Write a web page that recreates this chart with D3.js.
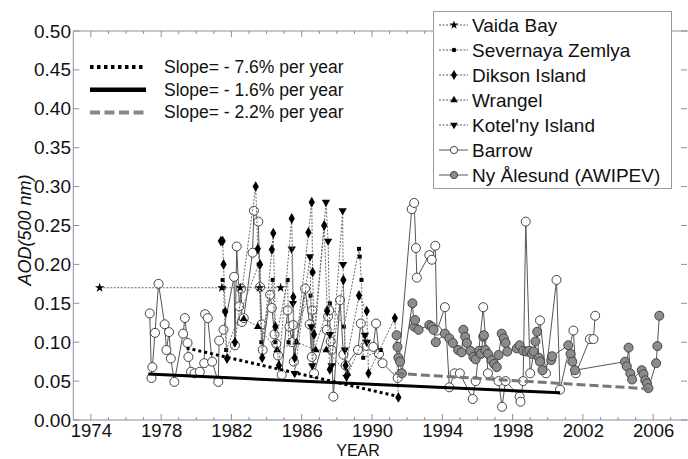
<!DOCTYPE html>
<html><head><meta charset="utf-8">
<script src="https://cdn.jsdelivr.net/npm/d3@7"></script>
<style>body{margin:0;background:#fff}svg{display:block;font-family:"Liberation Sans",Arial,sans-serif}</style>
</head><body><svg id="c" width="688" height="459"></svg>
<script>
const xTicks = [1974,1978,1982,1986,1990,1994,1998,2002,2006];
const yTicks = [0,0.05,0.10,0.15,0.20,0.25,0.30,0.35,0.40,0.45,0.50];
const seriesNames = ["Vaida Bay","Severnaya Zemlya","Dikson Island","Wrangel","Kotel'ny Island","Barrow","Ny Ålesund (AWIPEV)"];
const slopeLabels = ["Slope= - 7.6% per year","Slope= - 1.6% per year","Slope= - 2.2% per year"];

const vaida = [[1974.5,0.17],[1981.45,0.17],[1982.5,0.17],[1983.6,0.17],[1984.8,0.17]];
const severnaya = [[1981.5,0.18],[1981.55,0.17],[1981.6,0.14],[1981.7,0.09],[1983.55,0.20],[1983.7,0.10],[1984.35,0.18],[1984.5,0.10],[1985.2,0.18],[1985.25,0.10],[1986.5,0.16],[1986.7,0.09],[1987.6,0.15],[1988.4,0.12],[1989.26,0.22],[1989.3,0.21],[1989.4,0.18],[1989.5,0.08],[1990.5,0.09]];
const dikson = [[1981.4,0.23],[1981.5,0.23],[1981.55,0.20],[1981.65,0.139],[1981.75,0.079],[1982.2,0.10],[1983.38,0.30],[1983.5,0.22],[1983.63,0.20],[1983.75,0.08],[1984.3,0.219],[1984.38,0.24],[1984.5,0.12],[1984.7,0.07],[1985.43,0.259],[1985.52,0.158],[1985.6,0.08],[1986.38,0.241],[1986.57,0.28],[1986.62,0.19],[1986.7,0.11],[1987.28,0.25],[1987.45,0.14],[1987.6,0.065],[1988.37,0.18],[1988.5,0.07],[1989.26,0.16],[1989.7,0.14],[1989.8,0.06],[1991.3,0.131],[1991.5,0.029]];
const wrangel = [[1982.7,0.13],[1983.5,0.12],[1984.6,0.09],[1985.7,0.10],[1986.8,0.09],[1987.4,0.09],[1988.6,0.06]];
const kotelny = [[1985.43,0.22],[1985.5,0.15],[1985.6,0.06],[1986.47,0.21],[1986.55,0.12],[1986.6,0.07],[1987.38,0.28],[1987.5,0.23],[1987.6,0.11],[1987.7,0.07],[1988.33,0.269],[1988.35,0.20],[1988.45,0.09],[1988.55,0.055],[1989.6,0.109],[1989.7,0.10]];
const barrow = [[1977.35,0.137],[1977.45,0.054],[1977.5,0.068],[1977.65,0.112],[1977.85,0.175],[1978.2,0.123],[1978.3,0.09],[1978.45,0.113],[1978.55,0.079],[1978.75,0.049],[1979.25,0.111],[1979.35,0.131],[1979.5,0.099],[1979.55,0.081],[1979.7,0.062],[1979.9,0.06],[1980.2,0.062],[1980.45,0.073],[1980.5,0.136],[1980.65,0.131],[1980.9,0.075],[1981.25,0.049],[1981.3,0.102],[1981.55,0.116],[1982.15,0.184],[1982.2,0.096],[1982.3,0.223],[1982.45,0.146],[1982.55,0.169],[1982.6,0.126],[1982.7,0.131],[1983.2,0.215],[1983.28,0.269],[1983.53,0.255],[1983.63,0.171],[1983.72,0.123],[1983.78,0.09],[1984.2,0.161],[1984.3,0.144],[1984.45,0.11],[1984.55,0.098],[1984.65,0.083],[1984.86,0.058],[1985.2,0.141],[1985.3,0.12],[1985.45,0.10],[1985.52,0.122],[1985.55,0.075],[1986.19,0.169],[1986.45,0.123],[1986.57,0.081],[1986.6,0.141],[1986.7,0.06],[1987.42,0.116],[1987.5,0.133],[1987.57,0.141],[1987.65,0.101],[1987.7,0.09],[1987.8,0.03],[1988.18,0.154],[1988.37,0.084],[1988.5,0.07],[1989.2,0.09],[1989.36,0.124],[1989.7,0.095],[1990.07,0.094],[1990.23,0.124],[1990.4,0.085],[1990.6,0.073],[1991.46,0.054],[1992.26,0.271],[1992.4,0.279],[1992.5,0.221],[1992.55,0.183],[1993.26,0.212],[1993.4,0.206],[1993.6,0.224],[1993.7,0.115],[1994.15,0.145],[1994.4,0.042],[1994.7,0.06],[1995.0,0.06],[1995.73,0.027],[1995.9,0.05],[1996.33,0.145],[1996.6,0.06],[1997.2,0.05],[1997.4,0.017],[1997.6,0.05],[1998.4,0.03],[1998.45,0.0235],[1998.6,0.05],[1998.75,0.255],[1999.0,0.06],[1999.56,0.128],[1999.9,0.06],[2000.5,0.18],[2000.7,0.039],[2001.46,0.115],[2001.6,0.06],[2002.4,0.104],[2002.6,0.104],[2002.7,0.134]];
const nyalesund = [[1991.4,0.109],[1991.45,0.094],[1991.5,0.08],[1991.6,0.075],[1991.7,0.06],[1992.3,0.15],[1992.4,0.12],[1992.45,0.1285],[1992.65,0.116],[1993.26,0.122],[1993.4,0.12],[1993.5,0.116],[1993.63,0.10],[1994.15,0.111],[1994.4,0.105],[1994.6,0.099],[1994.9,0.09],[1995.1,0.087],[1995.2,0.116],[1995.3,0.107],[1995.4,0.099],[1995.6,0.089],[1995.77,0.081],[1995.9,0.078],[1996.1,0.089],[1996.2,0.085],[1996.33,0.107],[1996.37,0.109],[1996.45,0.09],[1996.6,0.085],[1996.8,0.077],[1996.95,0.072],[1997.1,0.068],[1997.2,0.0835],[1997.38,0.111],[1997.5,0.105],[1997.6,0.099],[1997.7,0.088],[1998.24,0.092],[1998.4,0.096],[1998.6,0.089],[1998.8,0.088],[1998.95,0.089],[1999.1,0.085],[1999.2,0.088],[1999.3,0.101],[1999.4,0.1135],[1999.5,0.08],[1999.56,0.075],[1999.7,0.064],[2000.2,0.077],[2000.25,0.082],[2001.17,0.096],[2001.3,0.085],[2001.4,0.075],[2001.55,0.064],[2004.4,0.075],[2004.5,0.069],[2004.6,0.093],[2004.7,0.06],[2004.8,0.052],[2005.35,0.064],[2005.45,0.059],[2005.55,0.051],[2005.65,0.047],[2005.73,0.041],[2006.17,0.073],[2006.24,0.095],[2006.35,0.134]];

const trendDotted = [[1979.45,0.0925],[1991.54,0.030]];
const trendSolid = [[1977.27,0.059],[2000.7,0.035]];
const trendDashed = [[1991.3,0.060],[2005.8,0.040]];

const svg = d3.select("#c");
const x = d3.scaleLinear().domain([1973,2008]).range([73.3,688.3]);
const y = d3.scaleLinear().domain([0,0.5]).range([420,31]);
const axisCol = "#8e8ea0";

svg.append("line").attr("x1",x(1973)).attr("x2",x(2008)).attr("y1",y(0)).attr("y2",y(0)).attr("stroke",axisCol);
svg.append("line").attr("x1",x(1973)).attr("x2",x(2008)).attr("y1",y(0.5)).attr("y2",y(0.5)).attr("stroke",axisCol);
svg.append("line").attr("x1",x(1973)).attr("x2",x(1973)).attr("y1",y(0)).attr("y2",y(0.5)).attr("stroke",axisCol);

const yearsMinor = d3.range(1974,2008);
const ax = svg.append("g");
yearsMinor.forEach(yr=>{
  const maj = xTicks.includes(yr);
  const L = maj?6:3;
  ax.append("line").attr("x1",x(yr)).attr("x2",x(yr)).attr("y1",y(0)).attr("y2",y(0)-L).attr("stroke",axisCol);
  ax.append("line").attr("x1",x(yr)).attr("x2",x(yr)).attr("y1",y(0.5)).attr("y2",y(0.5)+L).attr("stroke",axisCol);
});
yTicks.forEach(v=>{
  ax.append("line").attr("x1",x(1973)).attr("x2",x(1973)+6).attr("y1",y(v)).attr("y2",y(v)).attr("stroke",axisCol);
  ax.append("line").attr("x1",687).attr("x2",681).attr("y1",y(v)).attr("y2",y(v)).attr("stroke",axisCol);
});
const xAxis = d3.axisBottom(x).tickValues(xTicks).tickFormat(d3.format("d")).tickSize(0).tickPadding(0);
svg.append("g").attr("transform","translate(0,424)").call(xAxis)
  .call(g=>g.select(".domain").remove())
  .selectAll("text").attr("font-size",18.5).attr("fill","#111").attr("dy","0.71em").attr("font-family","Liberation Sans, Arial");
const yAxis = d3.axisLeft(y).tickValues(yTicks).tickFormat(d3.format(".2f")).tickSize(0).tickPadding(0);
svg.append("g").attr("transform","translate(71,0)").call(yAxis)
  .call(g=>g.select(".domain").remove())
  .selectAll("text").attr("font-size",19).attr("fill","#111").attr("font-family","Liberation Sans, Arial");

svg.append("text").attr("x",358).attr("y",455.5).attr("text-anchor","middle").attr("font-size",16).attr("fill","#111").text("YEAR");
svg.append("text").attr("transform","translate(31,230) rotate(-90)").attr("text-anchor","middle").attr("font-size",18).attr("font-style","italic").attr("fill","#111").text("AOD(500 nm)");

const line = d3.line().x(d=>x(d[0])).y(d=>y(d[1]));
const plot = svg.append("g");

function drawSeries(data, opt){
  plot.append("path").datum(data).attr("d",line).attr("fill","none").attr("stroke",opt.lc).attr("stroke-width",opt.lw||1).attr("stroke-dasharray",opt.dash||null);
  const g = plot.append("g");
  data.forEach(d=>{
    if(opt.circle){
      g.append("circle").attr("cx",x(d[0])).attr("cy",y(d[1])).attr("r",opt.r).attr("fill",opt.fill).attr("stroke",opt.stroke).attr("stroke-width",1);
    } else {
      g.append("path").attr("d",d3.symbol().type(opt.sym).size(opt.size)()).attr("transform",`translate(${x(d[0])},${y(d[1])}) rotate(${opt.rot||0})`).attr("fill","#000");
    }
  });
}
const soviet = {lc:"#6a6a6a",dash:"2,1.5",lw:1};
drawSeries(barrow,{lc:"#555",lw:1,circle:true,r:4.5,fill:"#fff",stroke:"#444"});
drawSeries(vaida,Object.assign({sym:d3.symbolStar,size:28},soviet));
drawSeries(severnaya,Object.assign({sym:d3.symbolSquare,size:16},soviet));
drawSeries(wrangel,Object.assign({sym:d3.symbolTriangle,size:26},soviet));
drawSeries(kotelny,Object.assign({sym:d3.symbolTriangle,size:30,rot:180},soviet));
drawSeries(dikson,Object.assign({sym:d3.symbolDiamond,size:34},soviet));
drawSeries(nyalesund,{lc:"#555",lw:1,circle:true,r:4.5,fill:"#8c8c8c",stroke:"#444"});

plot.append("path").datum(trendDotted).attr("d",line).attr("stroke","#000").attr("stroke-width",3).attr("stroke-dasharray","3,3").attr("fill","none");
plot.append("path").datum(trendSolid).attr("d",line).attr("stroke","#000").attr("stroke-width",3).attr("fill","none");
plot.append("path").datum(trendDashed).attr("d",line).attr("stroke","#777").attr("stroke-width",3).attr("stroke-dasharray","9,4").attr("fill","none");

const slopeStyles = [{c:"#000",w:4,d:"3.5,3.5"},{c:"#000",w:4.5,d:null},{c:"#888",w:4,d:"10,4.5"}];
slopeLabels.forEach((t,i)=>{
  const yy = 67 + i*22.7;
  svg.append("line").attr("x1",90).attr("x2",146).attr("y1",yy).attr("y2",yy).attr("stroke",slopeStyles[i].c).attr("stroke-width",slopeStyles[i].w).attr("stroke-dasharray",slopeStyles[i].d);
  svg.append("text").attr("x",164).attr("y",yy+6).attr("font-size",17.5).attr("fill","#111").text(t);
});

const lg = svg.append("g");
lg.append("rect").attr("x",433.5).attr("y",11.5).attr("width",238).attr("height",177).attr("fill","#fff").attr("stroke","#999");
const legSyms = [
  {sym:d3.symbolStar,size:24},{sym:d3.symbolCircle,size:16},{sym:d3.symbolDiamond,size:30},
  {sym:d3.symbolTriangle,size:24},{sym:d3.symbolTriangle,size:24,rot:180},
  {circle:true,fill:"#fff"},{circle:true,fill:"#8c8c8c"}];
seriesNames.forEach((n,i)=>{
  const yy = 25 + i*25;
  const s = legSyms[i];
  lg.append("line").attr("x1",439).attr("x2",468).attr("y1",yy).attr("y2",yy).attr("stroke","#555").attr("stroke-width",1).attr("stroke-dasharray",s.circle?null:"2,1.5");
  if(s.circle) lg.append("circle").attr("cx",454).attr("cy",yy).attr("r",3.6).attr("fill",s.fill).attr("stroke","#444");
  else lg.append("path").attr("d",d3.symbol().type(s.sym).size(s.size)()).attr("transform",`translate(454,${yy}) rotate(${s.rot||0})`).attr("fill","#000");
  lg.append("text").attr("x",472).attr("y",yy+7).attr("font-size",19).attr("fill","#111").text(n);
});
</script></body></html>
